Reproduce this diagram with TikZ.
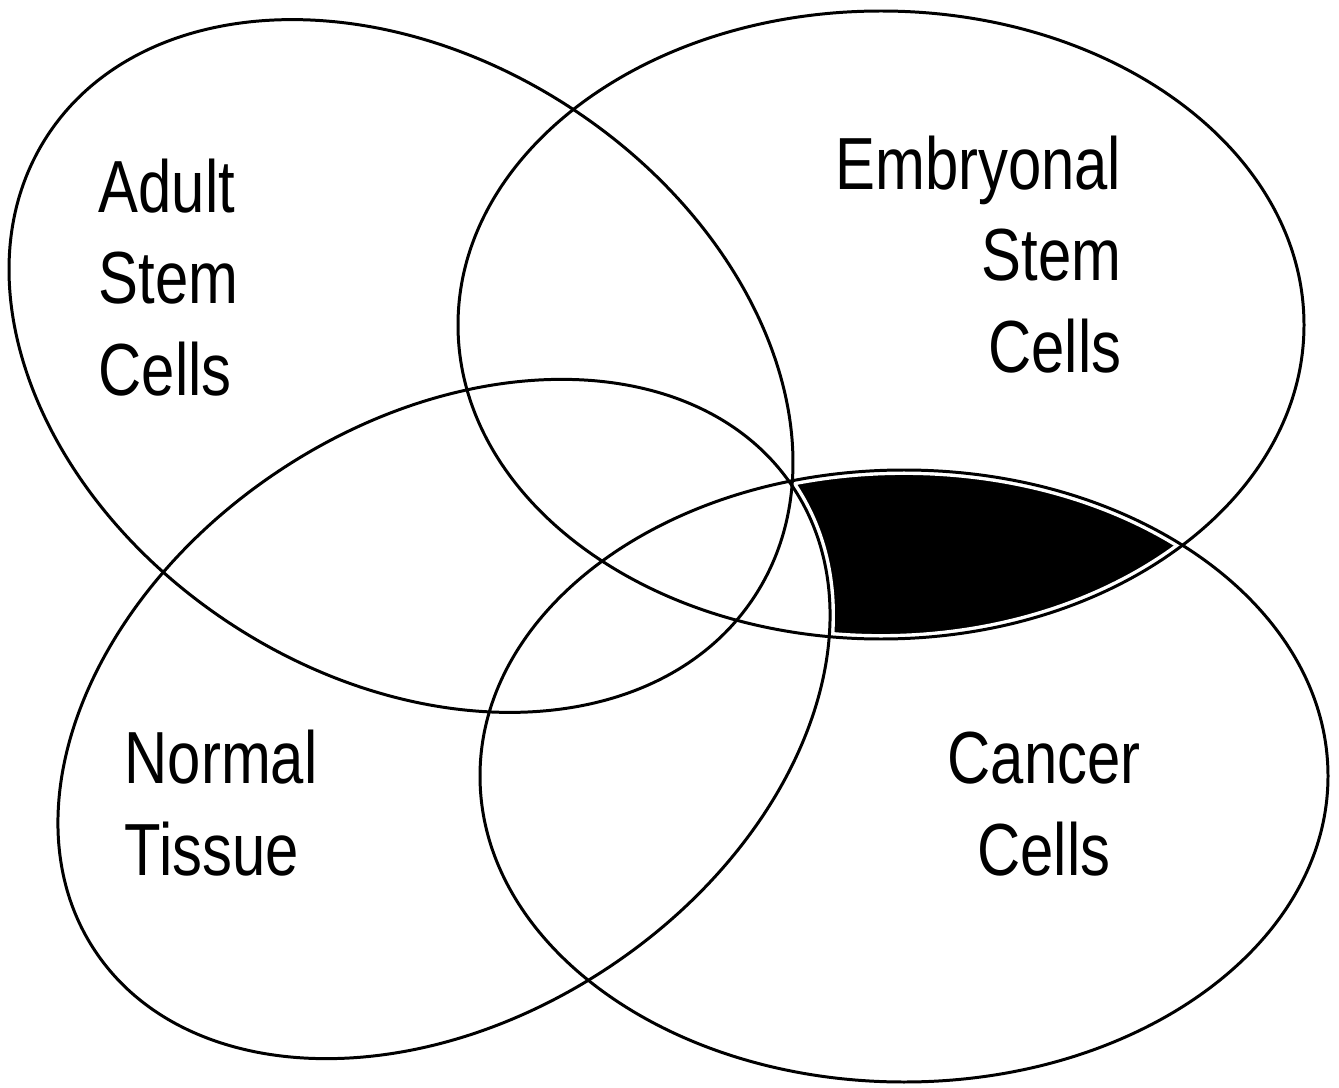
\documentclass[tikz,border=0pt]{standalone}
\usepackage{fontspec}
\setmainfont{Liberation Sans}[FakeStretch=0.81]
\usepackage{tikz}
\newcommand{\adultset}{(401,366) ellipse [x radius=422, y radius=309, rotate=-33]}
\newcommand{\embryoset}{(881,325) ellipse [x radius=423, y radius=314]}
\newcommand{\normalset}{(444,719) ellipse [x radius=419, y radius=298, rotate=33.6]}
\newcommand{\cancerset}{(904,776) ellipse [x radius=424, y radius=306]}
\tikzset{
  rim/.style  ={draw=black,line width=0.85pt},
  halo/.style ={draw=white,line width=2.8pt},
  lbl/.style  ={inner sep=0pt,font=\fontsize{21}{26}\selectfont}
}

\begin{document}
\begin{tikzpicture}[x=0.01cm,y=-0.01cm]
  \useasboundingbox (0,0) rectangle (1339,1088);
  % embryonal and cancer, but not normal tissue
  \begin{scope}
    \clip \embryoset;
    \clip \cancerset;
    \fill[black,even odd rule] \normalset (0,0) rectangle (1339,1088);
  \end{scope}
  \draw[halo] \adultset;
  \draw[halo] \embryoset;
  \draw[halo] \normalset;
  \draw[halo] \cancerset;
  \draw[rim] \adultset;
  \draw[rim] \embryoset;
  \draw[rim] \normalset;
  \draw[rim] \cancerset;
  \node[lbl,anchor=base west,align=left]  (adult)  at (98,395)   {Adult\\Stem\\Cells};
  \node[lbl,anchor=base east,align=right] (embryo) at (1122,372)  {Embryonal\\Stem\\Cells};
  \node[lbl,anchor=base west,align=left]  (normal) at (124,875)  {Normal\\Tissue};
  \node[lbl,anchor=base,align=center]     (cancer) at (1044,875) {Cancer\\Cells};
\end{tikzpicture}
\end{document}
